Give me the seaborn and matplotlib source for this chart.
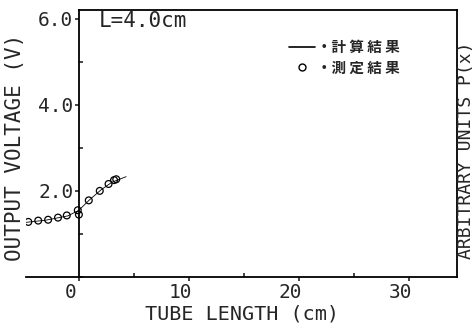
import matplotlib
matplotlib.use('Agg')
import matplotlib.pyplot as plt
import matplotlib.transforms as mtransforms
import seaborn as sns
import pandas as pd
from matplotlib.lines import Line2D
from matplotlib.ticker import MultipleLocator

# measured points (tube length cm, output voltage V)
meas_x = [-4.6, -3.7, -2.8, -1.9, -1.1, -0.1, 0.0, 0.9, 1.9, 2.7, 3.2, 3.4]
meas_y = [1.28, 1.31, 1.33, 1.38, 1.43, 1.55, 1.45, 1.78, 2.00, 2.16, 2.25, 2.27]

# calculated curve
calc_x = [-4.8, -3.0, -1.0, 0.0, 1.0, 2.0, 3.0, 4.3]
calc_y = [1.27, 1.32, 1.42, 1.55, 1.80, 2.02, 2.20, 2.33]

x_ticks = [0, 10, 20, 30]
y_ticks = [2.0, 4.0, 6.0]

sns.set_style('ticks')
plt.rcParams['font.family'] = ['DejaVu Sans Mono', 'Noto Sans CJK JP']

fig = plt.figure(figsize=(4.75, 3.31), dpi=100)
ax = fig.add_axes([0.055, 0.163, 0.907, 0.807])

df_calc = pd.DataFrame({'x': calc_x, 'y': calc_y})
df_meas = pd.DataFrame({'x': meas_x, 'y': meas_y})
sns.lineplot(data=df_calc, x='x', y='y', ax=ax, color='black', lw=0.6, sort=False)
sns.scatterplot(data=df_meas, x='x', y='y', ax=ax, marker='o', s=24,
                facecolor='none', edgecolor='black', linewidth=0.9)

ax.set_xlim(-4.8, 34.4)
ax.set_ylim(0, 6.2)

ax.spines['left'].set_position(('data', 0))
ax.spines['top'].set_visible(True)
ax.spines['right'].set_visible(True)
ax.spines['top'].set_bounds(0, 34.4)
for s in ax.spines.values():
    s.set_linewidth(1.3)
    s.set_color('black')

ax.set_xticks(x_ticks)
ax.set_xticklabels([str(v) for v in x_ticks])
ax.set_yticks(y_ticks)
ax.set_yticklabels([f'{v:.1f}' for v in y_ticks])
ax.xaxis.set_minor_locator(MultipleLocator(5))
ax.yaxis.set_minor_locator(MultipleLocator(1))
ax.tick_params(which='major', direction='out', length=3, width=1.2,
               labelsize=14, pad=1)
ax.tick_params(which='minor', direction='in', length=3, width=1.2)

# plotter labels sit a little left of the ticks
shift = mtransforms.ScaledTranslation(-8 / 100, 0, fig.dpi_scale_trans)
for lbl in ax.get_xticklabels():
    lbl.set_transform(lbl.get_transform() + shift)

ax.set_xlabel('TUBE LENGTH (cm)', fontsize=14.5, labelpad=2)
ax.set_ylabel('')
fig.text(0.032, 0.556, 'OUTPUT VOLTAGE (V)', rotation=90, fontsize=15,
         ha='center', va='center')
fig.text(0.982, 0.545, 'ARBITRARY UNITS P(x)', rotation=90, fontsize=13,
         ha='center', va='center')

ax.text(1.8, 5.95, 'L=4.0cm', fontsize=15, ha='left', va='center')

handles = [Line2D([], [], color='black', lw=1.2),
           Line2D([], [], marker='o', ls='none', mfc='none', mec='black', ms=5)]
leg = ax.legend(handles, ['・計 算 結 果', '・測 定 結 果'], loc='upper left',
                bbox_to_anchor=(0.58, 0.94), frameon=False, handlelength=1.8,
                handletextpad=0.1, labelspacing=0.3,
                prop={'family': 'Noto Sans CJK JP', 'weight': 'bold', 'size': 10.5})

fig.savefig('out.png', dpi=100)
